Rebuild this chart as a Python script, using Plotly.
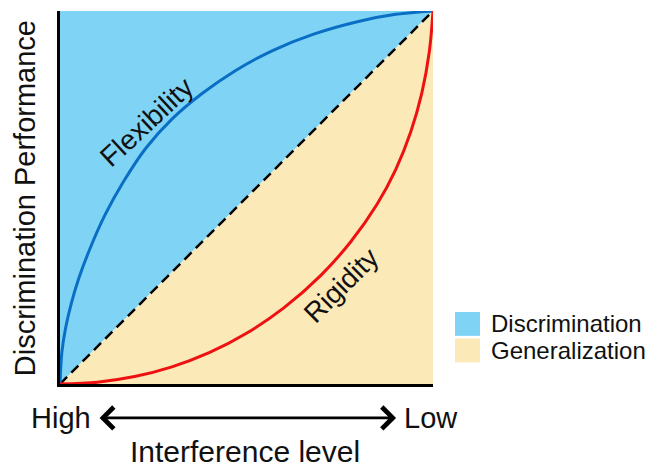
import plotly.graph_objects as go

# Curves (normalised 0..1 axes)
flex_x = [0, 0.005, 0.015, 0.03, 0.05, 0.08, 0.12, 0.17, 0.23, 0.30, 0.38, 0.47, 0.57, 0.68, 0.80, 0.90, 1.0]
flex_y = [0, 0.085, 0.150, 0.215, 0.282, 0.362, 0.452, 0.542, 0.632, 0.710, 0.778, 0.840, 0.894, 0.938, 0.972, 0.991, 1.0]

rig_x = [0, 0.1, 0.2, 0.3, 0.4, 0.5, 0.6, 0.7, 0.78, 0.85, 0.9, 0.94, 0.97, 0.99, 1.0]
rig_y = [0, 0.005, 0.02, 0.046, 0.084, 0.136, 0.204, 0.292, 0.382, 0.482, 0.575, 0.675, 0.78, 0.89, 1.0]

diag_x = [0, 1]
diag_y = [0, 1]

disc_x = [0, 0, 1, 0]
disc_y = [0, 1, 1, 0]
gen_x = [0, 1, 1, 0]
gen_y = [0, 0, 1, 0]

legend_labels = ["Discrimination", "Generalization"]
curve_labels = ["Flexibility", "Rigidity"]
axis_ends = ["High", "Low"]
x_title = "Interference level"
y_title = "Discrimination Performance"

BLUE_FILL = "#7fd4f6"
WHEAT_FILL = "#fce9b8"
BLUE_LINE = "#0a6ec4"
RED_LINE = "#ee1111"
FONT = "Arial, Liberation Sans, sans-serif"
TXT = "#111111"

fig = go.Figure()
fig.add_trace(go.Scatter(x=disc_x, y=disc_y, fill="toself", fillcolor=BLUE_FILL,
                         mode="none", hoverinfo="skip", showlegend=False))
fig.add_trace(go.Scatter(x=gen_x, y=gen_y, fill="toself", fillcolor=WHEAT_FILL,
                         mode="none", hoverinfo="skip", showlegend=False))
fig.add_trace(go.Scatter(x=diag_x, y=diag_y, mode="lines",
                         line=dict(color="black", width=2.5, dash="10px,6px"),
                         showlegend=False))
fig.add_trace(go.Scatter(x=flex_x, y=flex_y, mode="lines",
                         line=dict(color=BLUE_LINE, width=3, shape="spline", smoothing=1),
                         showlegend=False))
fig.add_trace(go.Scatter(x=rig_x, y=rig_y, mode="lines",
                         line=dict(color=RED_LINE, width=3, shape="spline", smoothing=1),
                         showlegend=False))


def txt(x, y, s, size, angle=0, xref="paper", yref="paper", xanchor="center"):
    return dict(x=x, y=y, xref=xref, yref=yref, text=s, showarrow=False,
                xanchor=xanchor, yanchor="middle", textangle=angle,
                font=dict(family=FONT, size=size, color=TXT))


ann = []
ann.append(txt(0.231, 0.702, curve_labels[0], 28, -43, "x", "y"))
ann.append(txt(0.753, 0.265, curve_labels[1], 28, -45, "x", "y"))
ann.append(txt(0.003, -0.091, axis_ends[0], 29))
ann.append(txt(0.995, -0.091, axis_ends[1], 29))
ann.append(dict(x=0.901, y=-0.091, xref="paper", yref="paper", text="", showarrow=True,
                ax=-298, ay=0, axref="pixel", ayref="pixel", arrowside="end+start",
                arrowhead=4, arrowsize=1.5, arrowwidth=2.8, arrowcolor="black"))
ann.append(txt(0.496, -0.182, x_title, 30))
ann.append(txt(-0.093, 0.499, y_title, 29, -90))

# manual legend
shapes = []
leg_colors = [BLUE_FILL, WHEAT_FILL]
leg_y = [0.161, 0.090]
for lab, col, yy in zip(legend_labels, leg_colors, leg_y):
    shapes.append(dict(type="rect", xref="paper", yref="paper", x0=1.059, x1=1.126,
                       y0=yy - 0.032, y1=yy + 0.032, fillcolor=col, line=dict(width=0)))
    ann.append(txt(1.150, yy, lab, 24, xanchor="left"))

axis_common = dict(range=[0, 1], showgrid=False, zeroline=False, showticklabels=False,
                   ticks="", showline=True, linecolor="black", linewidth=3, mirror=False,
                   fixedrange=True)
fig.update_layout(
    width=645, height=461,
    margin=dict(l=52, r=220, t=3, b=85),
    paper_bgcolor="white", plot_bgcolor="white",
    xaxis=axis_common, yaxis=axis_common,
    annotations=ann, shapes=shapes, showlegend=False,
)
fig.write_html("out.html")
